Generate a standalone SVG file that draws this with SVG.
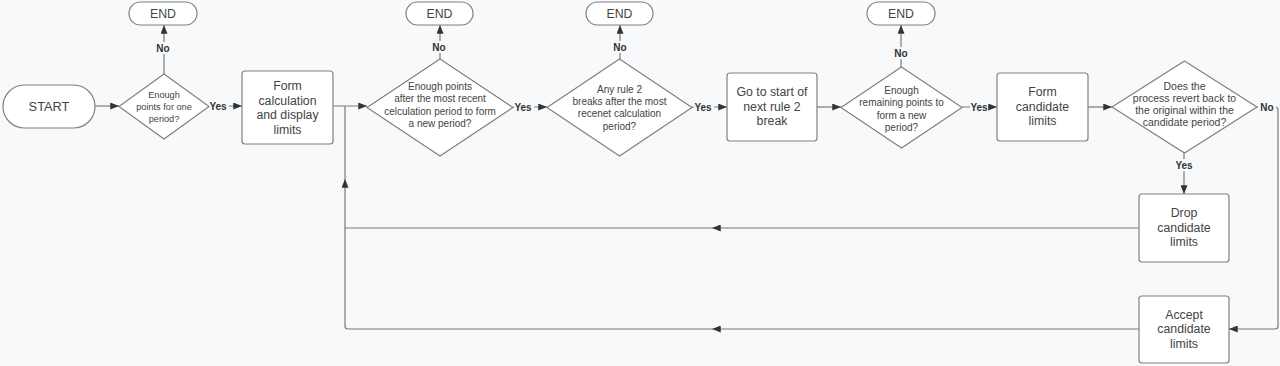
<svg xmlns="http://www.w3.org/2000/svg" width="1280" height="366" viewBox="0 0 1280 366">
<style>
.bg{fill:#f8f9fb}
.shape{fill:#ffffff;stroke:#808080;stroke-width:1.2}
.t{font-family:"Liberation Sans",Arial,sans-serif;fill:#444444;text-anchor:middle}
.box{font-size:12.3px}
.dia{font-size:10px}
.lbl{font-family:"Liberation Sans",Arial,sans-serif;font-size:10px;font-weight:bold;fill:#333333;text-anchor:middle}
.c{fill:none;stroke:#7a7a7a;stroke-width:1.2}
.lb{fill:#f8f9fb}
</style>
<defs>
<marker id="ah" viewBox="0 0 10 8" refX="10" refY="4" markerWidth="9" markerHeight="7" markerUnits="userSpaceOnUse" orient="auto">
<path d="M0,0 L10,4 L0,8 z" fill="#333333"/>
</marker>
</defs>
<rect class="bg" x="0" y="0" width="1280" height="366"/>

<g id="connectors">
<path class="c" d="M95,106 L119,106" marker-end="url(#ah)"/>
<path class="c" d="M164,74 L164,25" marker-end="url(#ah)"/>
<path class="c" d="M209,106 L242,106" marker-end="url(#ah)"/>
<path class="c" d="M333,106 L367,106" marker-end="url(#ah)"/>
<path class="c" d="M440,59 L440,25" marker-end="url(#ah)"/>
<path class="c" d="M513,107 L547,107" marker-end="url(#ah)"/>
<path class="c" d="M620,59 L620,25" marker-end="url(#ah)"/>
<path class="c" d="M692,107 L727,107" marker-end="url(#ah)"/>
<path class="c" d="M817,107 L841,107" marker-end="url(#ah)"/>
<path class="c" d="M901,67 L901,25" marker-end="url(#ah)"/>
<path class="c" d="M962,107 L997,107" marker-end="url(#ah)"/>
<path class="c" d="M1088,107 L1112,107" marker-end="url(#ah)"/>
<path class="c" d="M1184,153 L1184,194" marker-end="url(#ah)"/>
<path class="c" d="M1257,107 L1275,107 Q1278,107 1278,110 L1278,326 Q1278,329 1275,329 L1229,329" marker-end="url(#ah)"/>
<path class="c" d="M1139,228 L712,228" marker-end="url(#ah)"/>
<path class="c" d="M712,228 L345,228"/>
<path class="c" d="M1139,329 L712,329" marker-end="url(#ah)"/>
<path class="c" d="M712,329 L348,329 Q345,329 345,326 L345,179" marker-end="url(#ah)"/>
<path class="c" d="M345,179 L345,106"/>
<rect class="lb" x="154" y="42" width="20" height="12"/>
<text class="lbl" x="163" y="52">No</text>
<rect class="lb" x="209" y="100" width="20" height="12"/>
<text class="lbl" x="218" y="110">Yes</text>
<rect class="lb" x="430" y="41" width="20" height="12"/>
<text class="lbl" x="439" y="51">No</text>
<rect class="lb" x="514" y="101" width="20" height="12"/>
<text class="lbl" x="523" y="111">Yes</text>
<rect class="lb" x="610" y="41" width="20" height="12"/>
<text class="lbl" x="620" y="51">No</text>
<rect class="lb" x="694" y="101" width="20" height="12"/>
<text class="lbl" x="703" y="111">Yes</text>
<rect class="lb" x="891" y="47" width="20" height="12"/>
<text class="lbl" x="901" y="57">No</text>
<rect class="lb" x="970" y="101" width="18" height="12"/>
<text class="lbl" x="979" y="111">Yes</text>
<rect class="lb" x="1258" y="101" width="18" height="12"/>
<text class="lbl" x="1267" y="111">No</text>
<rect class="lb" x="1174" y="159" width="20" height="12"/>
<text class="lbl" x="1184" y="169">Yes</text>
</g>

<g id="start">
<rect class="shape" x="3" y="85" width="92" height="43" rx="21.5"/>
<text class="t" x="49" y="111" font-size="12.8">START</text>
</g>

<g id="d1">
<polygon class="shape" points="164,74 209,106.5 164,139 119,106.5"/>
<text class="t" x="164" y="98" font-size="9.2">Enough</text>
<text class="t" x="164" y="110" font-size="9.2">points for one</text>
<text class="t" x="164" y="122" font-size="9.2">period?</text>
</g>

<g id="end1">
<rect class="shape" x="129" y="2" width="68" height="23" rx="11.5"/>
<text class="t box" x="163" y="18">END</text>
</g>

<g id="box1">
<rect class="shape" x="242" y="71" width="91" height="73" rx="3"/>
<text class="t box" x="287.5" y="90">Form</text>
<text class="t box" x="287.5" y="104.5">calculation</text>
<text class="t box" x="287.5" y="119">and display</text>
<text class="t box" x="287.5" y="133.5">limits</text>
</g>

<g id="d2">
<polygon class="shape" points="440,59 513,107.5 440,156 367,107.5"/>
<text class="t dia" x="440" y="89.5">Enough points</text>
<text class="t dia" x="440" y="102">after the most recent</text>
<text class="t dia" x="440" y="114.5">celculation period to form</text>
<text class="t dia" x="440" y="127">a new period?</text>
</g>

<g id="end2">
<rect class="shape" x="406" y="2" width="67" height="23" rx="11.5"/>
<text class="t box" x="439.5" y="18">END</text>
</g>

<g id="d3">
<polygon class="shape" points="619.5,59 692,107.5 619.5,156 547,107.5"/>
<text class="t dia" x="619.5" y="92.5">Any rule 2</text>
<text class="t dia" x="619.5" y="104.5">breaks after the most</text>
<text class="t dia" x="619.5" y="117">recenet calculation</text>
<text class="t dia" x="619.5" y="129.5">period?</text>
</g>

<g id="end3">
<rect class="shape" x="586" y="2" width="67" height="23" rx="11.5"/>
<text class="t box" x="619.5" y="18">END</text>
</g>

<g id="box3">
<rect class="shape" x="727" y="73" width="90" height="68" rx="3"/>
<text class="t box" x="772" y="96">Go to start of</text>
<text class="t box" x="772" y="110.5">next rule 2</text>
<text class="t box" x="772" y="125">break</text>
</g>

<g id="d4">
<polygon class="shape" points="901.5,67 962,107.5 901.5,148 841,107.5"/>
<text class="t dia" x="901.5" y="93.5">Enough</text>
<text class="t dia" x="901.5" y="106">remaining points to</text>
<text class="t dia" x="901.5" y="118.5">form a new</text>
<text class="t dia" x="901.5" y="131">period?</text>
</g>

<g id="end4">
<rect class="shape" x="867" y="2" width="68" height="23" rx="11.5"/>
<text class="t box" x="901" y="18">END</text>
</g>

<g id="box4">
<rect class="shape" x="997" y="73" width="91" height="68" rx="3"/>
<text class="t box" x="1042.5" y="96">Form</text>
<text class="t box" x="1042.5" y="110.5">candidate</text>
<text class="t box" x="1042.5" y="125">limits</text>
</g>

<g id="d5">
<polygon class="shape" points="1184.5,61 1257,107 1184.5,153 1112,107"/>
<text class="t" x="1184.5" y="89.5" font-size="10.5">Does the</text>
<text class="t" x="1184.5" y="101.5" font-size="10.5">process revert back to</text>
<text class="t" x="1184.5" y="113.5" font-size="10.5">the original within the</text>
<text class="t" x="1184.5" y="125.5" font-size="10.5">candidate period?</text>
</g>

<g id="drop">
<rect class="shape" x="1139" y="194" width="90" height="68" rx="3"/>
<text class="t box" x="1184" y="217">Drop</text>
<text class="t box" x="1184" y="231.5">candidate</text>
<text class="t box" x="1184" y="246">limits</text>
</g>

<g id="accept">
<rect class="shape" x="1139" y="296" width="90" height="67" rx="3"/>
<text class="t box" x="1184" y="318.5">Accept</text>
<text class="t box" x="1184" y="333">candidate</text>
<text class="t box" x="1184" y="347.5">limits</text>
</g>
</svg>
